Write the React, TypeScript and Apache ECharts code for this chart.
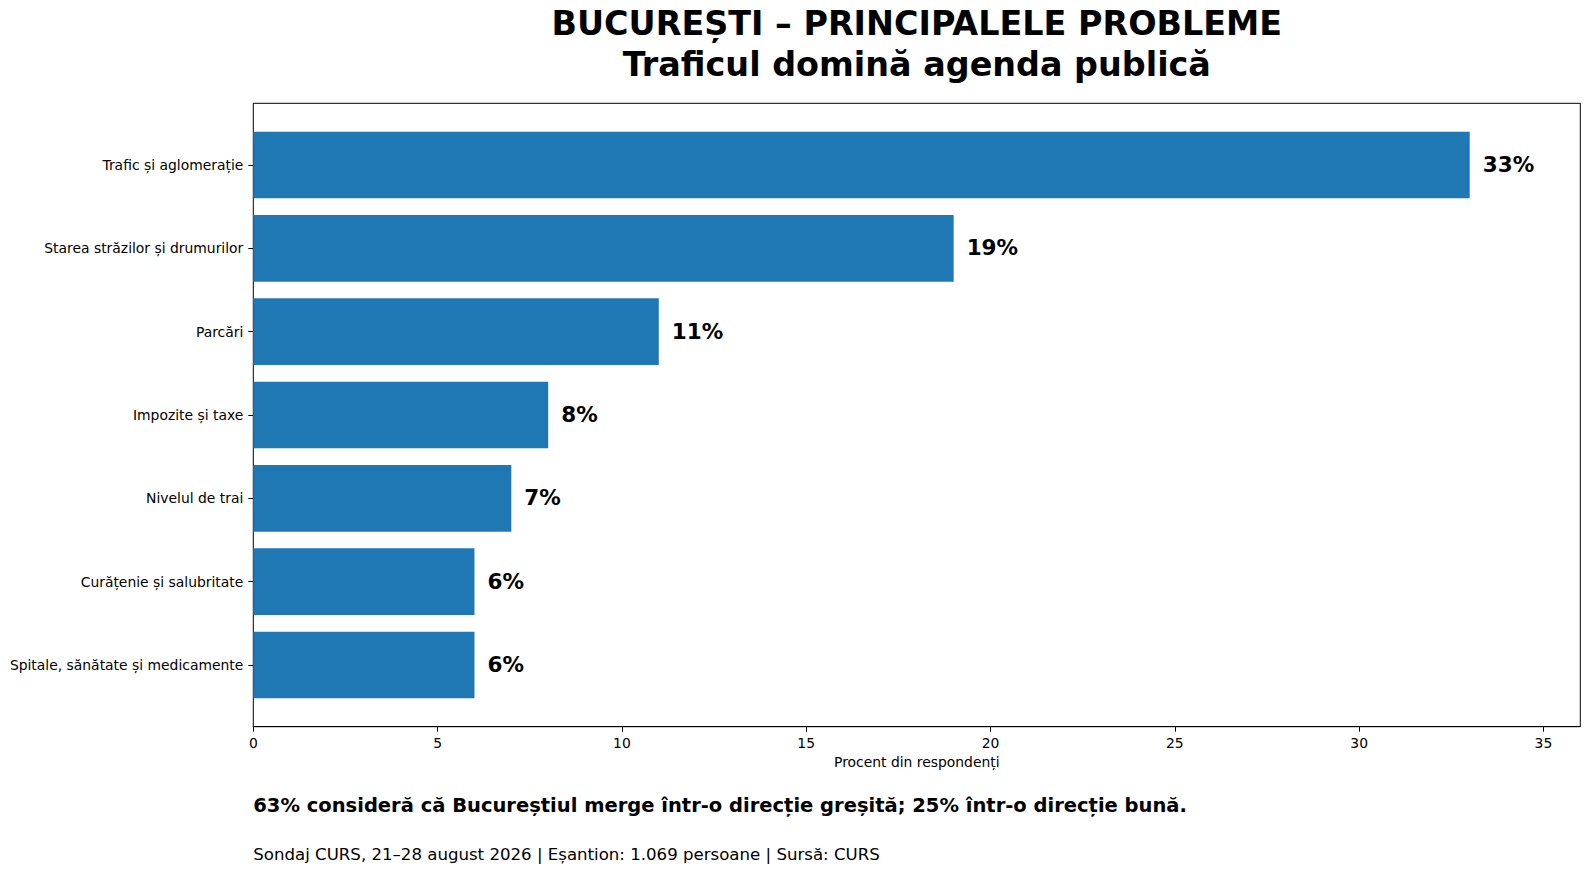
import React, { useEffect, useRef } from "react";
import * as echarts from "echarts";

const categories = [
  "Trafic și aglomerație",
  "Starea străzilor și drumurilor",
  "Parcări",
  "Impozite și taxe",
  "Nivelul de trai",
  "Curățenie și salubritate",
  "Spitale, sănătate și medicamente",
];
const values = [33, 19, 11, 8, 7, 6, 6];
const xTicks = [0, 5, 10, 15, 20, 25, 30, 35];
const xMin = 0;
const xMax = 36;
const titleLine1 = "BUCUREȘTI – PRINCIPALELE PROBLEME";
const titleLine2 = "Traficul domină agenda publică";
const xAxisName = "Procent din respondenți";
const footerBold = "63% consideră că Bucureștiul merge într-o direcție greșită; 25% într-o direcție bună.";
const footerNote = "Sondaj CURS, 21–28 august 2026 | Eșantion: 1.069 persoane | Sursă: CURS";

const FONT = "DejaVu Sans";

export default function App() {
  const ref = useRef<HTMLDivElement>(null);
  useEffect(() => {
    if (!ref.current) return;
    const chart = echarts.init(ref.current, null, { renderer: "svg" });
    const plotLeft = 253.3;
    const plotTop = 103.3;
    const plotW = 1327;
    const plotH = 623.4;
    const perCat = plotH / 7.48;
    const bandTop = plotTop + 0.24 * perCat;
    const bandH = 7 * perCat;
    const cx = plotLeft + plotW / 2;
    const titleSize = 33.4;
    const boldSize = 19.5;
    const noteSize = 16.6;
    chart.setOption({
      animation: false,
      backgroundColor: "#fff",
      textStyle: { fontFamily: FONT },
      grid: [
        {
          left: plotLeft,
          top: plotTop,
          width: plotW,
          height: plotH,
          show: true,
          borderColor: "#000",
          borderWidth: 1,
          backgroundColor: "transparent",
        },
        {
          left: plotLeft,
          top: bandTop,
          width: plotW,
          height: bandH,
        },
      ],
      xAxis: [
        {
          gridIndex: 0,
          type: "value",
          min: xMin,
          max: xMax,
          splitLine: { show: false },
          axisLine: { show: true, lineStyle: { color: "#000", width: 1 } },
          axisTick: {
            show: true,
            length: 5,
            lineStyle: { color: "#000", width: 1 },
            customValues: xTicks,
          },
          axisLabel: {
            color: "#000",
            fontSize: 13.9,
            fontFamily: FONT,
            margin: 9,
            lineHeight: 14,
            customValues: xTicks,
          },
          name: xAxisName,
          nameLocation: "middle",
          nameGap: 28,
          nameTextStyle: {
            color: "#000",
            fontSize: 13.9,
            fontFamily: FONT,
            lineHeight: 14,
            verticalAlign: "top",
          },
        },
        {
          gridIndex: 1,
          type: "value",
          min: xMin,
          max: xMax,
          show: false,
        },
      ],
      yAxis: [
        {
          gridIndex: 0,
          type: "value",
          show: false,
        },
        {
          gridIndex: 1,
          type: "category",
          data: categories,
          inverse: true,
          axisLine: { show: false },
          axisTick: {
            show: true,
            length: 5,
            alignWithLabel: true,
            lineStyle: { color: "#000", width: 1 },
          },
          axisLabel: {
            color: "#000",
            fontSize: 13.9,
            fontFamily: FONT,
            margin: 10,
          },
          splitLine: { show: false },
        },
      ],
      series: [
        {
          type: "bar",
          xAxisIndex: 1,
          yAxisIndex: 1,
          data: values,
          barWidth: "80%",
          itemStyle: { color: "#1f77b4" },
          label: {
            show: true,
            position: "right",
            distance: 13,
            formatter: "{c}%",
            color: "#000",
            fontSize: 21.5,
            fontWeight: "bold",
            fontFamily: FONT,
            offset: [0, -0.5],
          },
        },
      ],
      graphic: [
        {
          type: "text",
          x: cx,
          y: 35.2 - 0.346 * titleSize,
          style: {
            text: titleLine1,
            fontSize: titleSize,
            fontWeight: "bold",
            fontFamily: FONT,
            fill: "#000",
            align: "center",
            verticalAlign: "middle",
          },
        },
        {
          type: "text",
          x: cx,
          y: 75.8 - 0.346 * titleSize,
          style: {
            text: titleLine2,
            fontSize: titleSize,
            fontWeight: "bold",
            fontFamily: FONT,
            fill: "#000",
            align: "center",
            verticalAlign: "middle",
          },
        },
        {
          type: "text",
          x: plotLeft,
          y: 812.5 - 0.346 * boldSize,
          style: {
            text: footerBold,
            fontSize: boldSize,
            fontWeight: "bold",
            fontFamily: FONT,
            fill: "#000",
            align: "left",
            verticalAlign: "middle",
          },
        },
        {
          type: "text",
          x: plotLeft,
          y: 860 - 0.346 * noteSize,
          style: {
            text: footerNote,
            fontSize: noteSize,
            fontFamily: FONT,
            fill: "#000",
            align: "left",
            verticalAlign: "middle",
          },
        },
      ],
    });
    return () => chart.dispose();
  }, []);
  return (
    <div
      ref={ref}
      style={{ position: "fixed", left: 0, top: 0, width: "1589px", height: "875px" }}
    />
  );
}
